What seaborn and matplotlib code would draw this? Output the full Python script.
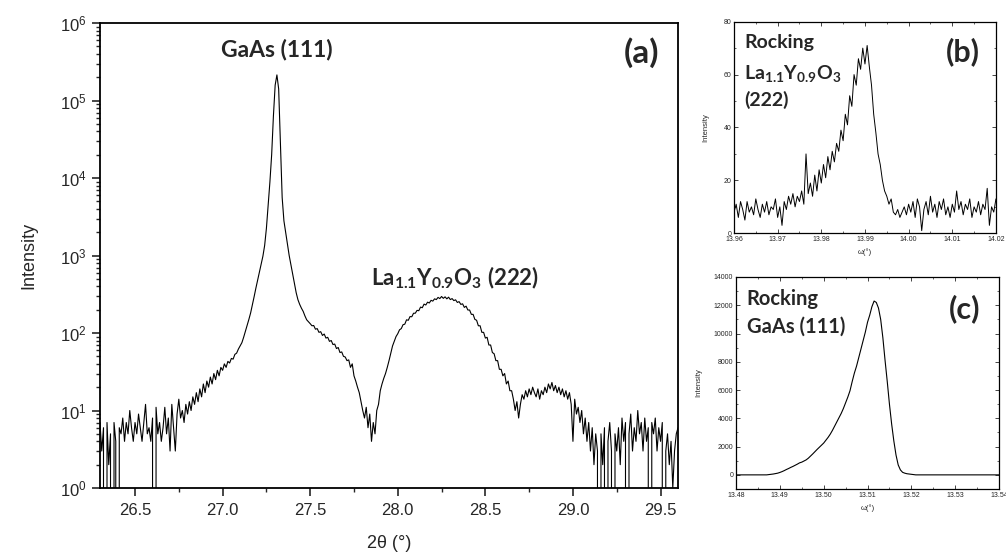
import numpy as np
import matplotlib
matplotlib.use("Agg")
import matplotlib.pyplot as plt
import seaborn as sns
from matplotlib.ticker import MultipleLocator, LogLocator, NullFormatter

# --- (a) 2theta scan, 26.30 .. 29.60 deg, step 0.01 (one row = 0.1 deg)
two_theta_start, two_theta_end = 26.30, 29.60
intensity_scan = [
    7, 3, 6, 0, 7, 2, 5, 0, 7, 4,              # 26.30
    0, 6, 5, 8, 4, 7, 5, 10, 6, 4,             # 26.40
    7, 5, 9, 6, 4, 7, 12, 5, 6, 4,             # 26.50
    8, 0, 11, 5, 7, 4, 6, 11, 5, 8,            # 26.60
    3, 12, 6, 3, 9, 14, 8, 10, 7, 12,          # 26.70
    9, 13, 10, 15, 12, 17, 13, 19, 15, 22,     # 26.80
    17, 24, 20, 27, 22, 30, 25, 33, 28, 36,    # 26.90
    33, 40, 36, 43, 41, 47, 46, 53, 55, 62,    # 27.00
    68, 75, 88, 105, 126, 150, 182, 230, 295, 380,          # 27.10
    480, 600, 760, 980, 1350, 2240, 4470, 8900, 20000, 63000,  # 27.20
    158000, 214000, 141000, 28000, 5600, 2800, 2000, 1410, 1000, 760,  # 27.30
    575, 437, 331, 269, 234, 209, 190, 166, 148, 140,       # 27.40
    132, 124, 125, 112, 114, 102, 104, 93, 97, 86,          # 27.50
    88, 78, 80, 71, 72, 63, 65, 56, 57, 50,                 # 27.60
    49, 44, 45, 36, 40, 28, 24, 20, 17, 13,                 # 27.70
    10, 8, 11, 6, 9, 4, 7, 5, 10, 12,                       # 27.80
    18, 22, 26, 30, 36, 44, 55, 68, 78, 90,                 # 27.90
    98, 110, 114, 128, 130, 148, 146, 163, 162, 180,        # 28.00
    180, 196, 194, 216, 212, 236, 230, 250, 244, 264,       # 28.10
    258, 276, 270, 288, 278, 296, 280, 293, 276, 290,       # 28.20
    270, 278, 262, 268, 248, 254, 234, 238, 214, 222,       # 28.30
    198, 198, 174, 174, 150, 146, 124, 124, 102, 102,       # 28.40
    86, 88, 70, 70, 56, 54, 44, 44, 34, 34,                 # 28.50
    28, 30, 22, 24, 18, 18, 14, 10, 13, 8,                  # 28.60
    12, 16, 14, 18, 15, 19, 16, 20, 17, 15,                 # 28.70
    19, 14, 18, 16, 20, 17, 22, 19, 23, 18,                 # 28.80
    21, 17, 20, 16, 19, 15, 18, 14, 17, 12,                 # 28.90
    4, 14, 9, 11, 7, 10, 5, 8, 4, 7,                        # 29.00
    3, 6, 2, 5, 3, 0, 5, 2, 6, 0,                           # 29.10
    4, 7, 3, 0, 5, 3, 6, 2, 8, 4,                           # 29.20
    7, 0, 5, 9, 3, 6, 4, 10, 5, 7,                          # 29.30
    3, 8, 4, 6, 0, 7, 5, 8, 3, 6,                           # 29.40
    4, 7, 0, 3, 5, 2, 4, 1, 3, 5,                           # 29.50
    6,                                                      # 29.60
]

# --- (b) rocking curve La1.1Y0.9O3 (222), 13.960 .. 14.020, step 0.0005
omega_b_start, omega_b_end = 13.960, 14.020
rocking_b = [
    8, 11, 6, 12, 9, 5, 12, 8, 10, 7, 13, 9, 6, 11, 8, 12, 7, 10, 9, 13,
    6, 10, 3, 12, 9, 14, 11, 15, 10, 14, 12, 16, 11, 30, 15, 19, 14, 22, 16, 24,
    19, 26, 21, 29, 24, 31, 27, 34, 31, 39, 35, 45, 41, 52, 48, 60, 56, 66, 62, 70,
    64, 71, 63, 56, 45, 38, 30, 26, 20, 16, 14, 11, 13, 8, 7, 9, 6, 8, 10, 7,
    11, 8, 12, 6, 13, 10, 1, 9, 12, 7, 14, 8, 11, 6, 12, 9, 13, 7, 10, 6,
    11, 8, 16, 9, 12, 7, 11, 9, 13, 6, 10, 8, 12, 7, 11, 9, 17, 3, 10, 8,
    13,
]

# --- (c) rocking curve GaAs (111), 13.480 .. 13.540, step 0.0005
omega_c_start, omega_c_end = 13.480, 13.540
rocking_c = (
    [0] * 15
    + [20, 40, 60, 90, 120, 170, 230, 300, 380, 450,
       530, 600, 680, 760, 850, 900, 980, 1060, 1180, 1330,
       1480, 1640, 1800, 1950, 2100, 2250, 2450, 2650, 2880, 3150,
       3450, 3750, 4050, 4350, 4700, 5100, 5500, 5950, 6600, 7200,
       7700, 8300, 8900, 9500, 10100, 10800, 11300, 11900, 12300, 12200,
       11800, 11000, 9700, 8100, 6600, 5000, 3600, 2400, 1400, 700,
       350, 180, 120, 80, 60, 40, 20]
    + [0] * 39
)

two_theta = np.linspace(two_theta_start, two_theta_end, len(intensity_scan))
omega_b = np.linspace(omega_b_start, omega_b_end, len(rocking_b))
omega_c = np.linspace(omega_c_start, omega_c_end, len(rocking_c))

sns.set_style("white")
plt.rcParams["font.family"] = ["Liberation Sans", "DejaVu Sans"]
plt.rcParams["mathtext.fontset"] = "custom"
plt.rcParams["mathtext.rm"] = "Lato"
plt.rcParams["mathtext.bf"] = "Lato:bold"
plt.rcParams["mathtext.it"] = "Lato:italic"
lab_font = "Lato"

fig = plt.figure(figsize=(10.06, 5.56), dpi=100)

# main panel (a)
ax = fig.add_axes([0.0994, 0.1223, 0.5746, 0.8363])
sns.lineplot(x=two_theta, y=intensity_scan, ax=ax, color="black", lw=0.8)
ax.set_yscale("log")
ax.set_xlim(26.3, 29.6)
ax.set_ylim(1, 1e6)
ax.xaxis.set_major_locator(MultipleLocator(0.5))
ax.xaxis.set_minor_locator(MultipleLocator(0.25))
ax.yaxis.set_major_locator(LogLocator(base=10, numticks=10))
ax.yaxis.set_minor_locator(LogLocator(base=10, subs=np.arange(2, 10), numticks=20))
ax.yaxis.set_minor_formatter(NullFormatter())
ax.tick_params(which="major", direction="out", length=6, width=1.2, labelsize=12,
               bottom=True, left=True, top=False, right=False)
ax.tick_params(which="minor", direction="out", length=3, width=1.0,
               bottom=True, left=True, top=False, right=False)
ax.tick_params(axis="x", pad=5)
for s in ax.spines.values():
    s.set_linewidth(1.3)
    s.set_color("black")
ax.set_ylabel("Intensity", fontsize=13, labelpad=16)
ax.set_xlabel("2θ (°)", fontsize=13, labelpad=12)
ax.text(0.306, 0.942, "GaAs (111)", transform=ax.transAxes, ha="center", va="center",
        fontsize=16.5, fontweight="bold", family=lab_font)
ax.text(0.936, 0.936, "(a)", transform=ax.transAxes, ha="center", va="center",
        fontsize=24, fontweight="bold", family=lab_font)
ax.text(0.614, 0.452, r"$\mathbf{La_{1.1}Y_{0.9}O_3\ (222)}$", transform=ax.transAxes,
        ha="center", va="center", fontsize=16)

# inset style helper for (b) and (c)
def small_axes(a):
    a.tick_params(which="major", direction="in", length=3, width=0.6, labelsize=5,
                  top=True, right=True, bottom=True, left=True, pad=2)
    a.tick_params(which="minor", direction="in", length=1.5, width=0.5,
                  top=True, right=True, bottom=True, left=True)
    for s in a.spines.values():
        s.set_linewidth(0.9)
        s.set_color("black")

# panel (b)
axb = fig.add_axes([0.7296, 0.5804, 0.2604, 0.3806])
sns.lineplot(x=omega_b, y=rocking_b, ax=axb, color="black", lw=0.7)
axb.set_xlim(13.96, 14.02)
axb.set_ylim(0, 80)
axb.xaxis.set_major_locator(MultipleLocator(0.01))
axb.xaxis.set_minor_locator(MultipleLocator(0.005))
axb.yaxis.set_major_locator(MultipleLocator(20))
axb.yaxis.set_minor_locator(MultipleLocator(10))
axb.xaxis.set_major_formatter(plt.FormatStrFormatter("%.2f"))
small_axes(axb)
axb.set_ylabel("Intensity", fontsize=5.5, labelpad=10)
axb.set_xlabel("ω(°)", fontsize=5.5, labelpad=4)
axb.text(0.04, 0.90, "Rocking", transform=axb.transAxes, ha="left", va="center",
         fontsize=14, fontweight="bold", family=lab_font)
axb.text(0.04, 0.757, r"$\mathbf{La_{1.1}Y_{0.9}O_3}$", transform=axb.transAxes,
         ha="left", va="center", fontsize=14)
axb.text(0.04, 0.63, "(222)", transform=axb.transAxes, ha="left", va="center",
         fontsize=14, fontweight="bold", family=lab_font)
axb.text(0.874, 0.857, "(b)", transform=axb.transAxes, ha="center", va="center",
         fontsize=22, fontweight="bold", family=lab_font)

# panel (c)
axc = fig.add_axes([0.7316, 0.1205, 0.2615, 0.3813])
sns.lineplot(x=omega_c, y=rocking_c, ax=axc, color="black", lw=0.8)
axc.set_xlim(13.48, 13.54)
axc.set_ylim(-1000, 14000)
axc.xaxis.set_major_locator(MultipleLocator(0.01))
axc.xaxis.set_minor_locator(MultipleLocator(0.005))
axc.yaxis.set_major_locator(MultipleLocator(2000))
axc.yaxis.set_minor_locator(MultipleLocator(1000))
axc.xaxis.set_major_formatter(plt.FormatStrFormatter("%.2f"))
small_axes(axc)
axc.set_ylabel("Intensity", fontsize=5.5, labelpad=8)
axc.set_xlabel("ω(°)", fontsize=5.5, labelpad=4)
axc.text(0.04, 0.896, "Rocking", transform=axc.transAxes, ha="left", va="center",
         fontsize=14.5, fontweight="bold", family=lab_font)
axc.text(0.04, 0.764, "GaAs (111)", transform=axc.transAxes, ha="left", va="center",
         fontsize=14.5, fontweight="bold", family=lab_font)
axc.text(0.87, 0.85, "(c)", transform=axc.transAxes, ha="center", va="center",
         fontsize=22, fontweight="bold", family=lab_font)

fig.savefig("out.png", dpi=100)
